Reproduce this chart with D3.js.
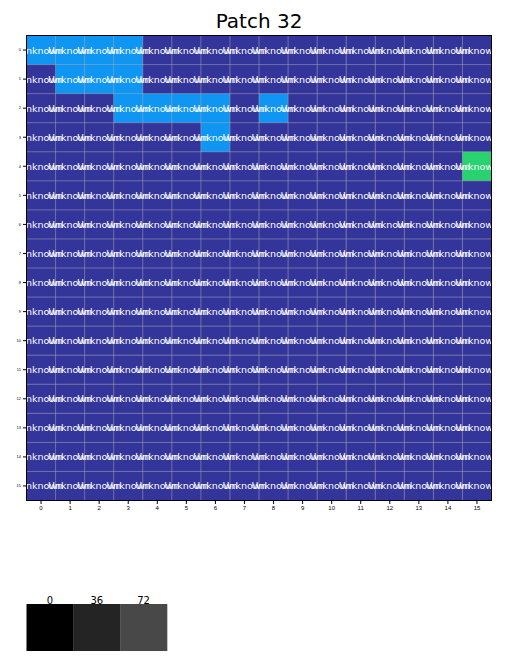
<!DOCTYPE html>
<html>
<head>
<meta charset="utf-8">
<script src="https://cdn.jsdelivr.net/npm/d3@7"></script>
<style>
  body { margin: 0; background: #fff; }
  svg { display: block; font-family: "DejaVu Sans", sans-serif; }
</style>
</head>
<body>
<div id="chart"></div>
<script>
// patch grid: 16 x 16, every cell is "Unknown", a few cells have another class
var rows = d3.range(16),
	cols = d3.range(16);

var classNames = ["other", "water", "grass"];
var classColors = ["#34359b", "#0f95f2", "#28d26e"];

// cells that are not the base class: [row, col, class]
var specialCells = [
	[0, 0, 1], [0, 1, 1], [0, 2, 1], [0, 3, 1],
	[1, 1, 1], [1, 2, 1], [1, 3, 1],
	[2, 3, 1], [2, 4, 1], [2, 5, 1], [2, 6, 1], [2, 8, 1],
	[3, 6, 1],
	[4, 15, 2]
];

var cellLabel = "Unknown";

var legendValues = [0, 36, 72];
var legendColors = ["#000000", "#242424", "#484848"];

var width = 512, height = 661;
var plot = {left: 26.5, top: 35.5, size: 465};

var svg = d3.select("#chart").append("svg")
	.attr("width", width)
	.attr("height", height);

var x = d3.scaleBand().domain(cols).range([plot.left, plot.left + plot.size]);
var y = d3.scaleBand().domain(rows).range([plot.top, plot.top + plot.size]);

var lookup = {};
specialCells.forEach(function(c){ lookup[c[0] + "," + c[1]] = c[2]; });

var cells = [];
rows.forEach(function(r){
	cols.forEach(function(c){
		cells.push({row: r, col: c, cls: lookup[r + "," + c] || 0});
	});
});

svg.append("defs").append("clipPath").attr("id", "plotclip")
	.append("rect")
	.attr("x", plot.left).attr("y", plot.top)
	.attr("width", plot.size).attr("height", plot.size);

var g = svg.append("g").attr("clip-path", "url(#plotclip)");

g.selectAll("rect.cell")
	.data(cells)
	.enter().append("rect")
	.attr("class", "cell")
	.attr("x", function(d){ return x(d.col); })
	.attr("y", function(d){ return y(d.row); })
	.attr("width", x.bandwidth() + 0.5)
	.attr("height", y.bandwidth() + 0.5)
	.attr("fill", function(d){ return classColors[d.cls]; });

// grid lines on the cell edges
g.selectAll("line.vg")
	.data(cols.slice(1))
	.enter().append("line")
	.attr("x1", function(d){ return x(d); })
	.attr("x2", function(d){ return x(d); })
	.attr("y1", plot.top).attr("y2", plot.top + plot.size)
	.attr("stroke", "#b0b0b0").attr("stroke-opacity", 0.6).attr("stroke-width", 0.8);

g.selectAll("line.hg")
	.data(rows.slice(1))
	.enter().append("line")
	.attr("y1", function(d){ return y(d); })
	.attr("y2", function(d){ return y(d); })
	.attr("x1", plot.left).attr("x2", plot.left + plot.size)
	.attr("stroke", "#b0b0b0").attr("stroke-opacity", 0.6).attr("stroke-width", 0.8);

g.selectAll("text.lbl")
	.data(cells)
	.enter().append("text")
	.attr("x", function(d){ return x(d.col) + x.bandwidth() / 2; })
	.attr("y", function(d){ return y(d.row) + y.bandwidth() / 2; })
	.attr("text-anchor", "middle")
	.attr("dominant-baseline", "central")
	.attr("fill", "#fff")
	.style("font-size", "9.5px")
	.text(cellLabel);

svg.append("rect")
	.attr("x", plot.left).attr("y", plot.top)
	.attr("width", plot.size).attr("height", plot.size)
	.attr("fill", "none").attr("stroke", "#000").attr("stroke-width", 1);

// axes
var xAxis = svg.append("g")
	.attr("transform", "translate(0," + (plot.top + plot.size) + ")")
	.call(d3.axisBottom(x).tickSize(3.5).tickPadding(2));
xAxis.select(".domain").remove();
xAxis.selectAll("text").style("font-size", "6px").attr("fill", "#000");

var yAxis = svg.append("g")
	.attr("transform", "translate(" + plot.left + ",0)")
	.call(d3.axisLeft(y).tickSize(3.5).tickPadding(2));
yAxis.select(".domain").remove();
yAxis.selectAll("text").style("font-size", "4px").attr("fill", "#000");

svg.append("text")
	.attr("x", plot.left + plot.size / 2)
	.attr("y", 28)
	.attr("text-anchor", "middle")
	.style("font-size", "20px")
	.attr("fill", "#000")
	.text("Patch 32");

// legend swatches
var lx = d3.scaleBand().domain(legendValues).range([26.5, 167]);
var lg = svg.append("g");
lg.selectAll("rect")
	.data(legendValues)
	.enter().append("rect")
	.attr("x", function(d){ return lx(d); })
	.attr("y", 604)
	.attr("width", lx.bandwidth() + 0.3)
	.attr("height", 47)
	.attr("fill", function(d, i){ return legendColors[i]; });
lg.selectAll("text")
	.data(legendValues)
	.enter().append("text")
	.attr("x", function(d){ return lx(d) + lx.bandwidth() / 2; })
	.attr("y", 604)
	.attr("text-anchor", "middle")
	.style("font-size", "10px")
	.attr("fill", "#000")
	.text(function(d){ return d; });
</script>
</body>
</html>
